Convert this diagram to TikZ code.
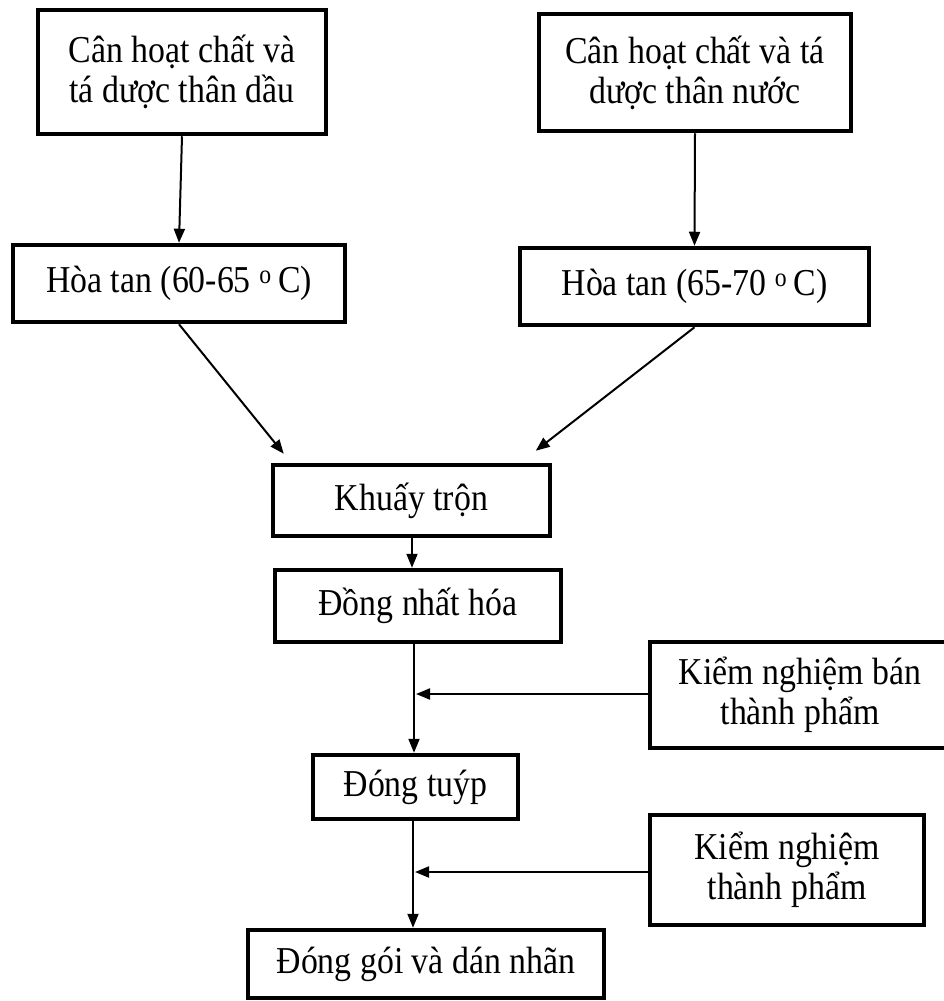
\documentclass[tikz,border=0pt]{standalone}
\usepackage{fontspec}
\setmainfont[FakeStretch=0.89]{Liberation Serif}
\usetikzlibrary{arrows.meta}
\begin{document}
\begin{tikzpicture}[x=1pt,y=-1pt,
  box/.style={draw=black, line width=4.5pt, rectangle, inner sep=0pt, align=center,
    font=\fontsize{38}{40}\selectfont},
  conn/.style={draw=black, line width=2pt, -{Triangle[length=14pt,width=11pt]}}]
\useasboundingbox (0,0) rectangle (943,1001);
\fill[white] (0,0) rectangle (943,1001);

\node[box, minimum width=288pt, minimum height=124pt] (b1) at (182,72) {Cân hoạt chất và\\tá dược thân dầu};
\node[box, minimum width=312pt, minimum height=117pt] (b2) at (695,72.5) {Cân hoạt chất và tá\\dược thân nước};
\node[box, minimum width=332pt, minimum height=77pt] (b3) at (179,283.5) {Hòa tan (60-65 \textsuperscript{o}\,C)};
\node[box, minimum width=349pt, minimum height=77pt] (b4) at (694.5,286.5) {Hòa tan (65-70 \textsuperscript{o}\,C)};
\node[box, minimum width=277pt, minimum height=71pt] (mix) at (411.5,500.5) {Khuấy trộn};
\node[box, minimum width=286pt, minimum height=72pt] (hom) at (418,606) {Đồng nhất hóa};
\node[box, minimum width=300pt, minimum height=106pt] (knb) at (800,695) {Kiểm nghiệm bán\\thành phẩm};
\node[box, minimum width=205pt, minimum height=64pt] (tube) at (415.5,787) {Đóng tuýp};
\node[box, minimum width=274pt, minimum height=110pt] (knt) at (787,870) {Kiểm nghiệm\\thành phẩm};
\node[box, minimum width=356pt, minimum height=68pt] (pack) at (426,964) {Đóng gói và dán nhãn};

\draw[conn] (b1.south) -- (b3.north);
\draw[conn] (b2.south) -- (b4.north);
\draw[conn] (b3.south) -- ([xshift=13pt,yshift=9pt]mix.north west);
\draw[conn] (b4.south) -- ([xshift=265pt,yshift=12pt]mix.north west);
\draw[conn] (mix.south -| 412,0) -- (hom.north -| 412,0);
\draw[conn] (hom.south -| 414,0) -- (tube.north -| 414,0);
\coordinate (j1) at (416,694);
\draw[conn] (knb.west |- j1) -- (j1);
\draw[conn] (tube.south -| 413,0) -- (pack.north -| 413,0);
\coordinate (j2) at (415,872);
\draw[conn] (knt.west |- j2) -- (j2);
\end{tikzpicture}
\end{document}
